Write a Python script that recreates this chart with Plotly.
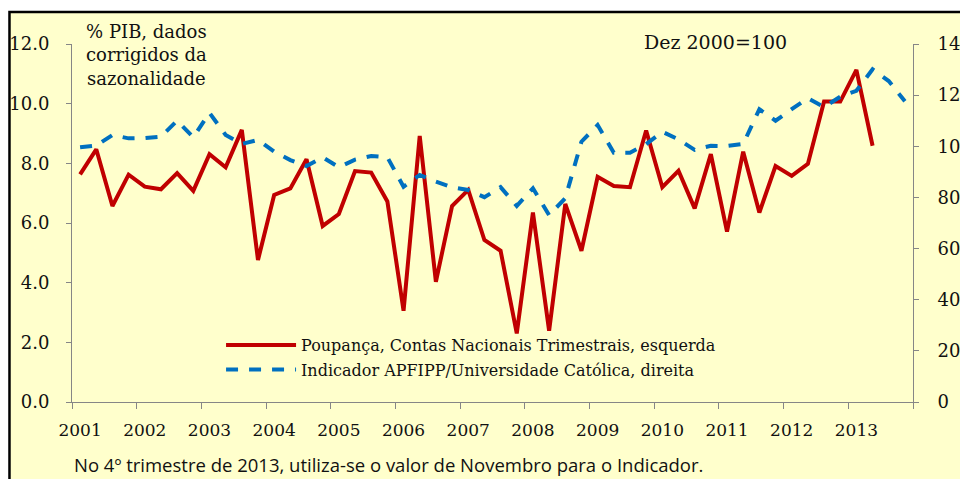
import plotly.graph_objects as go

years = [str(y) for y in range(2001, 2014)]
quarters = list(range(52))  # 2001Q1 .. 2013Q4

poupanca = [7.63, 8.47, 6.57, 7.62, 7.22, 7.13, 7.67, 7.08,
            8.31, 7.87, 9.12, 4.76, 6.94, 7.16, 8.14, 5.90,
            6.30, 7.74, 7.69, 6.72, 3.06, 8.92, 4.03, 6.57,
            7.11, 5.43, 5.07, 2.30, 6.35, 2.39, 6.64, 5.07,
            7.55, 7.24, 7.20, 9.10, 7.20, 7.75, 6.49, 8.31,
            5.71, 8.39, 6.35, 7.91, 7.58, 7.98, 10.07, 10.07,
            11.13, 8.59]

indicador = [99.6, 100.3, 104.4, 103.1, 103.2, 103.8, 110.0, 103.5,
             113.1, 104.4, 100.9, 102.5, 97.9, 94.6, 92.3, 95.7,
             91.8, 94.8, 96.2, 95.7, 84.2, 88.8, 86.2, 84.0,
             82.9, 80.1, 84.0, 76.7, 83.6, 73.1, 79.7, 101.8,
             108.3, 97.5, 97.5, 100.8, 105.7, 102.7, 98.6, 100.2,
             100.1, 100.9, 114.5, 110.0, 114.5, 118.8, 115.3, 119.4,
             121.7, 130.1, 125.5, 117.6]

W, H = 960, 479
L, R, T, B = 72, 47.3, 44, 77
pw, ph = W - L - R, H - T - B

def px_x(p):
    return (p - L) / pw

def px_y(p):
    return (H - B - p) / ph

serif = "'DejaVu Serif', 'Liberation Serif', serif"
sans = "'Open Sans', 'Noto Sans', sans-serif"
axis_grey = "#868686"
txt = "#111111"

fig = go.Figure()
fig.add_trace(go.Scatter(
    x=quarters[:len(poupanca)], y=poupanca, mode="lines",
    name="Poupança, Contas Nacionais Trimestrais, esquerda",
    line=dict(color="#C00000", width=4), yaxis="y", legend="legend"))
fig.add_trace(go.Scatter(
    x=quarters[:len(indicador)], y=indicador, mode="lines",
    name="Indicador APFIPP/Universidade Católica, direita",
    line=dict(color="#0070C0", width=4, dash="12px,11px"), yaxis="y2",
    legend="legend2"))

leg_common = dict(xanchor="left", yanchor="top",
                  bgcolor="rgba(0,0,0,0)", borderwidth=0,
                  font=dict(family=serif, size=16, color=txt),
                  itemwidth=70, tracegroupgap=0)

fig.update_layout(
    width=W, height=H,
    margin=dict(l=L, r=R, t=T, b=B, pad=0, autoexpand=False),
    paper_bgcolor="white",
    plot_bgcolor="rgba(0,0,0,0)",
    font=dict(family=serif, size=18, color=txt),
    xaxis=dict(
        range=[-0.5, 51.5], tickmode="array",
        tickvals=[4 * i for i in range(len(years))], ticktext=years,
        ticks="", showline=True, linecolor=axis_grey, linewidth=1,
        showgrid=False, zeroline=False, ticklabelstandoff=13,
        automargin=False,
        tickfont=dict(family=serif, size=17, color=txt),
        minor=dict(tickmode="array",
                   tickvals=[-0.5 + 4 * i for i in range(14)],
                   ticks="outside", ticklen=6, tickcolor=axis_grey,
                   tickwidth=1, showgrid=False),
    ),
    yaxis=dict(
        range=[0, 12], tickmode="linear", tick0=0, dtick=2,
        tickformat=".1f", ticks="outside", ticklen=5, tickcolor=axis_grey,
        showline=True, linecolor=axis_grey, linewidth=1,
        showgrid=False, zeroline=False, ticklabelstandoff=13,
        automargin=False,
        tickfont=dict(family=serif, size=18, color=txt),
    ),
    yaxis2=dict(
        range=[0, 140], tickmode="linear", tick0=0, dtick=20,
        overlaying="y", side="right",
        ticks="outside", ticklen=5, tickcolor=axis_grey,
        showline=True, linecolor=axis_grey, linewidth=1,
        showgrid=False, zeroline=False, ticklabelstandoff=15,
        automargin=False,
        tickfont=dict(family=serif, size=18, color=txt),
    ),
    legend=dict(x=px_x(221), y=px_y(328), **leg_common),
    legend2=dict(x=px_x(221), y=px_y(352.5), **leg_common),
    showlegend=True,
)

fig.add_shape(type="rect", xref="paper", yref="paper", layer="below",
              x0=px_x(9.5), x1=px_x(975), y0=px_y(490), y1=px_y(12),
              fillcolor="#FFFFCC", line=dict(color="black", width=2.5))

fig.add_annotation(xref="paper", yref="paper", x=px_x(146), y=px_y(19),
                   xanchor="center", yanchor="top", align="center",
                   showarrow=False,
                   text="% PIB, dados<br>corrigidos da<br>sazonalidade",
                   font=dict(family=serif, size=18, color=txt))
fig.add_annotation(xref="paper", yref="paper", x=px_x(715), y=px_y(42),
                   xanchor="center", yanchor="middle", showarrow=False,
                   text="Dez 2000=100",
                   font=dict(family=serif, size=19, color=txt))
fig.add_annotation(xref="paper", yref="paper", x=px_x(72), y=px_y(464),
                   xanchor="left", yanchor="middle", showarrow=False,
                   text="No 4º trimestre de 2013, utiliza-se o valor de Novembro para o Indicador.",
                   font=dict(family=sans, size=18.5, color=txt))

fig.write_html("out.html", config={"displayModeBar": False},
               post_script="document.body.style.margin='0';")
